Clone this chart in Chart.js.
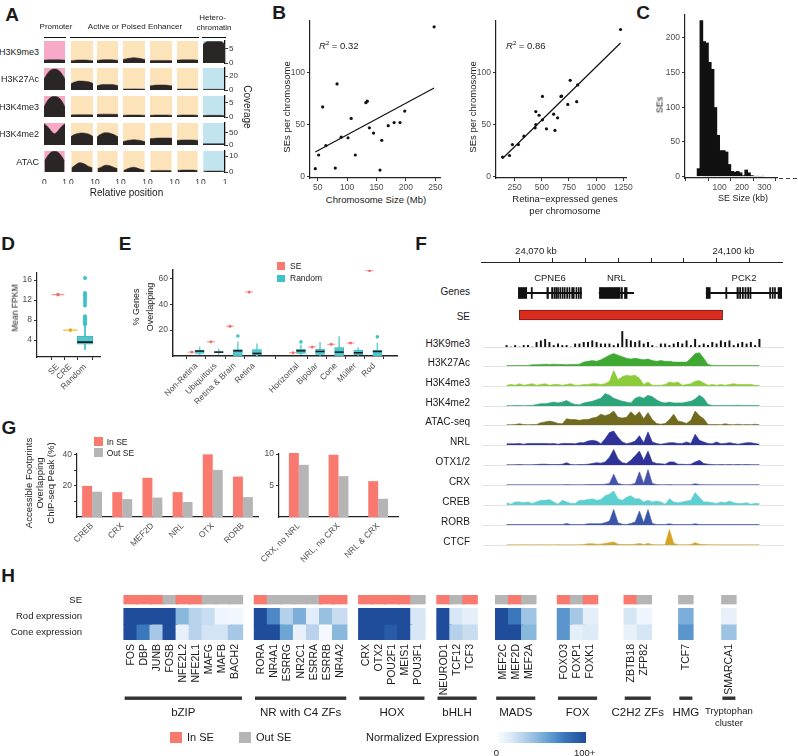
<!DOCTYPE html>
<html>
<head>
<meta charset="utf-8">
<script src="https://cdn.jsdelivr.net/npm/chart.js@4.4.1/dist/chart.umd.min.js"></script>
<style>
  body { margin: 0; background: #fff; width: 798px; height: 756px; overflow: hidden; position: relative;
         font-family: "Liberation Sans", Arial, Helvetica, sans-serif; color: #1a1a1a; }
  canvas { position: absolute; }
  .t { position: absolute; white-space: nowrap; line-height: 1; }
  .b { position: absolute; }
</style>
</head>
<body>
<script>
/* ---------- data ---------- */

// A: average coverage profiles (rows = marks, cols = promoter, 5 enhancer clusters, heterochromatin)
var aRowNames = ['H3K9me3', 'H3K27Ac', 'H3K4me3', 'H3K4me2', 'ATAC'];
var aRowMax = [7.6, 31.5, 7.4, 91, 13.2];
var aRowTicks = [[0, 5], [0, 20], [0, 5], [0, 50], [0, 10]];
var aProfiles = [
  [[1.0, 1.05, 1.1, 1.1, 1.1, 1.1, 1.1, 1.05, 1.0],
   [0.8, 0.9, 1.0, 1.05, 1.05, 1.05, 1.0, 0.9, 0.8],
   [0.9, 1.0, 1.1, 1.15, 1.15, 1.15, 1.1, 1.0, 0.9],
   [1.2, 1.4, 1.6, 1.75, 1.8, 1.75, 1.6, 1.4, 1.2],
   [0.8, 0.85, 0.9, 0.9, 0.9, 0.9, 0.9, 0.85, 0.8],
   [1.0, 1.05, 1.1, 1.1, 1.1, 1.1, 1.1, 1.05, 1.0],
   [6.4, 7.2, 7.4, 7.4, 7.4, 7.4, 7.4, 7.2, 6.4]],
  [[16, 22, 27, 29.5, 30, 29.5, 27, 22, 16],
   [9, 11, 12.3, 12.8, 12.8, 12.5, 12, 11, 9.5],
   [6, 7, 7.8, 8, 8, 8, 7.8, 7, 6],
   [1.2, 1.4, 1.5, 1.6, 1.6, 1.6, 1.5, 1.4, 1.2],
   [6, 6.5, 7, 7.2, 7.2, 7.2, 7, 6.5, 6],
   [1.2, 1.3, 1.4, 1.5, 1.5, 1.5, 1.4, 1.3, 1.2],
   [0.8, 0.9, 1, 1, 1, 1, 1, 0.9, 0.8]],
  [[3.6, 5.3, 6.5, 7.1, 7.2, 7.1, 6.5, 5.3, 3.6],
   [0.7, 0.75, 0.8, 0.8, 0.8, 0.8, 0.8, 0.75, 0.7],
   [0.9, 0.95, 1, 1, 1, 1, 1, 0.95, 0.9],
   [0.6, 0.65, 0.7, 0.7, 0.7, 0.7, 0.7, 0.65, 0.6],
   [0.6, 0.65, 0.7, 0.7, 0.7, 0.7, 0.7, 0.65, 0.6],
   [0.6, 0.65, 0.7, 0.7, 0.7, 0.7, 0.7, 0.65, 0.6],
   [0.5, 0.55, 0.6, 0.6, 0.6, 0.6, 0.6, 0.55, 0.5]],
  [[88, 80, 68, 55, 47, 55, 68, 80, 88],
   [35, 42, 47, 49, 50, 49, 47, 42, 35],
   [33, 42, 48, 51, 51, 49, 45, 40, 34],
   [14, 17, 19.5, 21, 21.5, 21, 19.5, 17, 14],
   [26, 27, 28, 28.5, 29, 29, 29, 29, 28],
   [19, 20, 20.5, 21, 21, 21, 20.5, 20, 19],
   [5, 5.3, 5.5, 5.5, 5.5, 5.5, 5.5, 5.3, 5]],
  [[7, 9.5, 11.5, 12.8, 13.1, 12.8, 11.5, 9.5, 7],
   [2.5, 3.8, 5, 5.8, 5.7, 5, 4, 3.2, 2.6],
   [2, 2.7, 3.5, 4.2, 4.3, 3.9, 3.3, 2.6, 2.1],
   [1, 1.6, 2.3, 2.9, 3.0, 2.6, 2, 1.5, 1.1],
   [0.8, 0.9, 1, 1, 1, 1, 1, 0.9, 0.8],
   [1, 1.1, 1.2, 1.2, 1.2, 1.2, 1.2, 1.1, 1],
   [0.5, 0.55, 0.6, 0.6, 0.6, 0.6, 0.6, 0.55, 0.5]]
];

// B: SEs per chromosome
var chrSizeMb = [46, 51.7, 58.5, 64, 80, 83, 90, 101.6, 107, 114, 132, 134.4, 138, 145, 156, 159, 170, 180, 190, 198, 248];
var sePerChrA = [7.9, 21, 67, 30, 8.5, 89, 38, 37.5, 56, 21, 71, 72.5, 47, 42, 6.6, 35, 49, 52, 52, 63, 143.6];
var retinaGenes = [139, 203, 230, 285, 336, 439, 445, 445, 475, 506, 506, 543, 609, 621, 645, 676, 682, 739, 761, 821, 830, 1224];
var sePerChrB = [19, 20.5, 31, 31, 39, 47, 50, 62.5, 59, 77, 54.6, 46, 60, 44.5, 56.5, 77, 77.3, 69.4, 92.4, 72, 88, 141];

// C: SE size histogram (bin centres, kb)
var seBinKb = [6.25, 18.75, 31.25, 43.75, 56.25, 68.75, 81.25, 93.75, 106.25, 118.75, 131.25, 143.75,
               156.25, 168.75, 181.25, 193.75, 206.25, 218.75, 231.25, 243.75, 256.25, 268.75, 281.25, 293.75];
var seBinCount = [12, 225, 195, 193, 165, 155, 100, 60, 38, 38, 36, 18, 8, 7, 8, 6, 2, 10, 6, 2, 1, 1, 0.5, 1];

// D: mean FPKM
var dCats = ['SE', 'CRE', 'Random'];
var dMeans = [13.1, 6.0];
var dRandStats = [2.1, 3.2, 3.6, 4.8, 7.0];   // low, q1, median, q3, high
var dRandOut = [7.2, 7.4, 7.6, 7.9, 8.2, 8.5, 8.8, 10.9, 11.4, 11.8, 12.3, 12.8, 13.1, 13.4, 16.4];

// E: % genes overlapping
var eCats = ['Non-Retina', 'Ubiquitous', 'Retina & Brain', 'Retina', 'Horizontal', 'Bipolar', 'Cone', 'Müller', 'Rod'];
var eSE = [3, 11, 23, 49.5, 2.5, 7, 9, 10, 66];
var eLow = [1, 1, 0, 0, 1, 0.5, 0, 0.5, 0];
var eQ1 = [2, 2.5, 0, 1, 2, 1.2, 0, 1, 0];
var eMed = [3.8, 3, 4, 2, 4, 3.5, 3, 2.5, 3.5];
var eQ3 = [4.5, 3.5, 5, 5, 5.2, 5.3, 6.5, 4.5, 4.5];
var eHigh = [7, 5.5, 11, 9.4, 8.5, 10.5, 15, 6.5, 10];
var eOut = [[], [], [15.5], [], [10.9], [], [], [], [14.8]];

// F: genome browser (kb)
var geneNames = ['CPNE6', 'NRL', 'PCK2'];
var geneStart = [24069.8, 24080.3, 24094.26];
var geneEnd = [24078.0, 24084.8, 24104.1];
var exons = [
  [24069.78, 24070.87], [24071.45, 24071.6], [24073.5, 24073.7], [24074.1, 24074.3], [24074.45, 24074.57],
  [24074.67, 24074.79], [24074.89, 24075.01], [24075.18, 24075.3], [24075.48, 24075.6], [24075.75, 24075.87],
  [24076.07, 24076.19], [24076.37, 24076.49], [24076.72, 24076.84], [24076.93, 24077.05], [24077.28, 24077.4],
  [24077.58, 24077.7], [24077.85, 24078.0],
  [24080.34, 24083.04], [24083.17, 24083.34], [24083.6, 24083.95],
  [24094.26, 24094.78], [24096.8, 24096.95], [24098.26, 24098.45], [24098.6, 24098.75], [24098.95, 24099.1],
  [24099.3, 24099.45], [24099.65, 24099.8], [24099.95, 24100.09], [24102.52, 24102.64], [24102.85, 24102.97],
  [24103.15, 24103.27], [24103.61, 24104.1]
];
var seRegion = [24069.91, 24096.39];
var rulerTicks = [24070, 24075, 24080, 24085, 24090, 24095, 24100];

var trackNames = ['H3K9me3', 'H3K27Ac', 'H3K4me3', 'H3K4me2', 'ATAC-seq', 'NRL', 'OTX1/2', 'CRX', 'CREB', 'RORB', 'CTCF'];
var trackK9 = [1,0,1,0,1,1,0,3,4,5, 3,1,2,1,1,0,2,2,3,3, 4,3,2,2,2,1,2,10,5,4, 3,4,2,3,1,0,2,2,1,2, 3,2,4,1,5,1,2,1,3,2, 4,3,4,1,2,3,2,3,1,5];
var trackK27 = [0.3,0.3,0.3,0.4,0.3,0.4,0.8,0.8,1.0,1.2, 1.0,1.2,1.0,1.0,0.8,1.0,1.0,1.2,2.5,3, 3.5,3,4,5.5,7,8,7,6,5,4.5,
                5,4.5,4,4.5,3.5,3,3.5,3,3,2.5, 2.5,2.5,2.5,5,8,8.5,5,1,0.4,0.3, 0.3,0.4,0.3,0.3,0.4,0.3,0.3,0.4,0.3,0.3];
var trackK4me3 = [0.5,1,0.5,1.5,0.5,1,1.5,0.5,1,1.5, 0.5,1,1,0.5,1,1.5,0.5,0.5,1,1, 1.5,1.5,1,1.5,3,10,4,6,7,6.5,
                  7,5,1,2.5,0.5,0.5,0.5,1,2.5,2, 2.5,0.5,1,1.5,3,3.5,2,0.5,1,0.5, 1,0.5,1,1.5,1,1,1,1,0.5,0.5];
var trackK4me2 = [0.3,0.2,0.3,0.3,0.2,0.3,0.3,1,1.5,1.5, 2,2.5,2,2.5,3.5,2,1,0.8,2,2.5, 3,4,5,8,7,5,4,3,2.5,2,
                  5,6,5,7,6,4,2.5,2,2.5,2, 2,2,2.5,3,4.5,7,5,1,0.3,0.3, 0.3,0.4,0.3,0.3,0.5,0.3,0.3,0.3,0.4,0.3];
var trackAtac = [0.2,0.2,0.3,0.8,0.3,0.2,0.3,0.3,1.5,2, 2.5,2,1,0.8,4,3.5,3.5,3,3.5,3.5, 4.5,5,7,6,7,9,5,4.5,5,8.5,
                 6,8.5,4,8,3.5,1,0.5,1,3.5,7, 2.5,2,1,3,9,6,4,0.3,0.3,0.3, 0.2,0.8,0.3,0.2,0.5,0.2,0.3,0.2,0.5,0.2];
var trackNrl = [0.8,0.8,0.8,1,0.5,1,1,1,1,1, 0.8,1,0.5,1,1,1,0.8,1.5,1.5,2.5, 3,2.5,0.8,4,8,9,5,2,0.8,1.5,
                2.5,6,1.5,8.5,2,1,0.5,1,1.5,1.5, 1,1,2,1,7,3,2,1,0.8,2, 0.8,1,1.5,1,0.5,1,1.5,1.5,1,0.5];
var trackOtx = [0.2,0.1,0.2,0.3,0.2,0.1,0.2,0.3,0.5,0.5, 0.3,0.3,0.3,0.5,1.5,0.3,0.2,0.3,0.3,0.5, 1,1.5,1.2,2,5,10,4,1.5,1,3,
                6,9,3,9,2,1,0.8,0.5,2,2, 0.5,0.5,0.3,0.5,2,3,1,0.5,0.3,0.2, 0.3,0.2,0.3,0.2,0.3,0.2,0.3,0.2,0.2,0.2];
var trackCrx = [0.2,0.2,0.2,0.2,0.2,0.2,0.2,0.2,0.2,0.2, 0.2,0.2,0.2,0.2,0.3,0.2,0.2,0.2,0.2,0.3, 0.3,0.3,0.3,0.5,1,7,1,0.3,0.2,0.3,
                1,8.5,1,10,1,0.3,0.2,0.2,0.3,0.2, 0.2,0.2,0.2,0.2,0.8,0.3,0.2,0.2,0.2,0.2, 0.2,0.2,0.2,0.2,0.2,0.2,0.2,0.2,0.2,0.2];
var trackCreb = [1.5,0.5,2,2,1.5,2,1,2,3,3, 3.5,2,0.5,3,2,1,1,3,3,3.5, 4,3,3.5,6,7,9,4,3,5,6,
                 4,4,2,3,2,2.5,2,0.5,4,2, 1.5,2,2.5,3,8,5,2,2,1.5,1, 2,1.5,2.5,1.5,1,1,1.5,0.5,1,1];
var trackRorb = [0.3,0.3,0.3,0.3,0.3,0.3,0.3,0.3,0.3,0.3, 0.3,0.3,0.3,0.3,1,0.3,0.3,0.3,0.3,0.8, 0.8,0.8,0.8,1.5,2.5,10,1.5,0.5,0.3,1,
                 2,9,1.5,10,1,0.3,0.3,0.3,0.8,0.3, 0.3,0.3,0.3,0.3,0.8,0.3,0.3,0.3,0.3,0.3, 0.3,0.3,0.3,0.3,0.3,0.3,0.3,0.3,0.3,0.3];
var trackCtcf = [0.1,0.1,0.1,0.1,0.2,0.1,0.1,0.1,0.2,0.1, 0.1,0.1,0.2,0.1,0.1,0.1,0.1,0.2,0.3,0.8, 0.8,0.5,0.5,1,1.5,2,0.5,0.3,0.3,0.3,
                 0.5,1,0.3,1,0.3,0.2,0.2,0.2,10,1, 0.2,0.2,0.2,0.3,1.5,0.5,0.3,0.2,0.2,0.2, 0.1,0.1,0.1,0.1,0.1,0.1,0.1,0.1,0.1,0.1];
var trackValues = [trackK9, trackK27, trackK4me3, trackK4me2, trackAtac, trackNrl, trackOtx, trackCrx, trackCreb, trackRorb, trackCtcf];

// G: accessible footprints overlapping ChIP-seq peaks (%)
var gCats1 = ['CREB', 'CRX', 'MEF2D', 'NRL', 'OTX', 'RORB'];
var gIn1 = [20, 16, 25.2, 16, 40.3, 26];
var gOut1 = [16.3, 11.5, 12.5, 9.7, 30.3, 12.8];
var gCats2 = ['CRX, no NRL', 'NRL, no CRX', 'NRL & CRX'];
var gIn2 = [10.2, 9.9, 5.7];
var gOut2 = [8.3, 6.5, 2.9];

// H: TF expression heatmap
var hGroups = ['bZIP', 'NR with C4 ZFs', 'HOX', 'bHLH', 'MADS', 'FOX', 'C2H2 ZFs', 'HMG', 'Tryptophan cluster'];
var hGenes = [['FOS', 'DBP', 'JUNB', 'FOSB', 'NFE2L2', 'NFE2L1', 'MAFG', 'MAFB', 'BACH2'],
              ['RORA', 'NR4A1', 'ESRRG', 'NR2C1', 'ESRRA', 'ESRRB', 'NR4A2'],
              ['CRX', 'OTX2', 'POU2F1', 'MEIS1', 'POU3F1'],
              ['NEUROD1', 'TCF12', 'TCF3'],
              ['MEF2C', 'MEF2D', 'MEF2A'],
              ['FOXO3', 'FOXP1', 'FOXK1'],
              ['ZBTB18', 'ZFP82'],
              ['TCF7'],
              ['SMARCA1']];
var hInSE = [[1, 1, 1, 0, 1, 1, 0, 0, 0], [1, 0, 0, 0, 0, 1, 1], [1, 1, 1, 1, 0], [1, 0, 1], [0, 1, 0], [1, 0, 1], [1, 0], [0], [0]];
var hRod = [[100, 100, 100, 100, 45, 28, 22, 5, 3], [100, 68, 30, 50, 12, 40, 22], [100, 100, 100, 100, 16], [100, 16, 10],
            [100, 75, 37], [62, 35, 10], [17, 5], [50], [8]];
var hCone = [[100, 75, 35, 100, 8, 28, 18, 18, 35], [100, 100, 55, 8, 28, 2, 45], [100, 100, 92, 100, 16], [100, 30, 22],
             [100, 100, 45], [62, 10, 14], [8, 17], [62], [38]];

/* ---------- helpers ---------- */
var FONT = '"Liberation Sans", Arial, Helvetica, sans-serif';
Chart.defaults.font.family = FONT;
Chart.defaults.color = '#4d4d4d';
var SALMON = '#f9796f', GREY = '#b5b5b5', TEAL = '#3fc1c8';

Chart.register({
  id: 'bg',
  beforeDraw: function (ch, args, o) {
    if (!o || !o.color) return;
    var a = ch.chartArea;
    ch.ctx.save();
    ch.ctx.fillStyle = o.color;
    ch.ctx.fillRect(a.left, a.top, a.right - a.left, a.bottom - a.top);
    ch.ctx.restore();
  }
});

function txt(s, x, y, size, o) {
  o = o || {};
  var d = document.createElement('div');
  d.className = 't';
  d.innerHTML = s;
  d.style.left = x + 'px';
  d.style.top = y + 'px';
  d.style.fontSize = size + 'px';
  if (o.bold) d.style.fontWeight = 'bold';
  if (o.lh) { d.style.lineHeight = o.lh; d.style.textAlign = 'center'; }
  var tx = o.align === 'l' ? '0' : o.align === 'r' ? '-100%' : '-50%';
  d.style.transform = 'translate(' + tx + ',-50%)' + (o.rot ? ' rotate(' + o.rot + 'deg)' : '');
  document.body.appendChild(d);
}

function box(x, y, w, h, color) {
  var d = document.createElement('div');
  d.className = 'b';
  d.style.left = x + 'px'; d.style.top = y + 'px';
  d.style.width = w + 'px'; d.style.height = h + 'px';
  d.style.background = color;
  document.body.appendChild(d);
  return d;
}

// area = chart area in page px, m = canvas margins, ax = fixed axis sizes
function mk(area, m, ax, cfg) {
  var x0 = Math.round(area[0]), y0 = Math.round(area[1]);
  var w = Math.round(area[2]) - x0, h = Math.round(area[3]) - y0;
  var c = document.createElement('canvas');
  c.width = w + m.l + m.r;
  c.height = h + m.t + m.b;
  c.style.left = (x0 - m.l) + 'px';
  c.style.top = (y0 - m.t) + 'px';
  document.body.appendChild(c);
  var o = cfg.options = cfg.options || {};
  o.responsive = false;
  o.animation = false;
  o.events = [];
  o.layout = {padding: {left: m.l - (ax.l || 0), right: m.r - (ax.r || 0), top: m.t - (ax.t || 0), bottom: m.b - (ax.b || 0)}};
  o.plugins = Object.assign({legend: {display: false}, tooltip: {enabled: false}}, o.plugins || {});
  var sc = o.scales || {};
  Object.keys(sc).forEach(function (k) {
    var s = sc[k];
    if (s.display === false) return;
    var pos = s.position || (k.charAt(0) === 'x' ? 'bottom' : 'left');
    var size = {left: ax.l, right: ax.r, top: ax.t, bottom: ax.b}[pos] || 0;
    s.afterFit = function (scale) {
      if (pos === 'left' || pos === 'right') scale.width = size; else scale.height = size;
    };
  });
  return new Chart(c, cfg);
}

function axisOpts(o) {
  var base = {
    grid: {display: true, drawOnChartArea: false, drawTicks: true, tickLength: 3, color: '#333', lineWidth: 1},
    border: {display: true, color: '#222', width: 1.2},
    ticks: {font: {size: 8.5}, color: '#4d4d4d', padding: 2, autoSkip: false, maxRotation: 0, minRotation: 0}
  };
  Object.keys(o || {}).forEach(function (k) {
    if (base[k] && typeof o[k] === 'object' && !Array.isArray(o[k])) base[k] = Object.assign({}, base[k], o[k]);
    else base[k] = o[k];
  });
  return base;
}

function tickAt(vals) {
  return function (s) { s.ticks = vals.map(function (v) { return {value: v}; }); };
}

function fitLine(xs, ys) {
  var n = xs.length, mx = 0, my = 0, sxy = 0, sxx = 0;
  for (var i = 0; i < n; i++) { mx += xs[i] / n; my += ys[i] / n; }
  for (i = 0; i < n; i++) { sxy += (xs[i] - mx) * (ys[i] - my); sxx += (xs[i] - mx) * (xs[i] - mx); }
  var b = sxy / sxx, a = my - b * mx;
  var lo = Math.min.apply(null, xs), hi = Math.max.apply(null, xs);
  return [{x: lo, y: a + b * lo}, {x: hi, y: a + b * hi}];
}

function pts(xs, ys) { return xs.map(function (x, i) { return {x: x, y: ys[i]}; }); }
function plain(v) { return String(v); }

/* ---------- panel letters ---------- */
[['A', 12, 13.5], ['B', 279, 12], ['C', 643, 12], ['D', 8, 242.5], ['E', 125, 242.5],
 ['F', 421, 242.5], ['G', 9, 427], ['H', 8, 574.5]].forEach(function (p) {
  txt(p[0], p[1], p[2], 19, {bold: true});
});

/* ---------- A ---------- */
var aColX = [[44, 65], [71, 93], [97, 118], [123, 145], [150, 172], [177, 198], [203, 225]];
var aRowY = [[41, 63], [68, 90], [96, 117], [123, 145], [151, 172]];
var aBg = ['#f7a9c8', '#fde3b9', '#fde3b9', '#fde3b9', '#fde3b9', '#fde3b9', '#c2e4ef'];
aRowNames.forEach(function (name, r) {
  txt(name, 39, (aRowY[r][0] + aRowY[r][1]) / 2, 9, {align: 'r'});
  aProfiles[r].forEach(function (prof, c) {
    var last = c === 6, bottom = r === 4;
    mk([aColX[c][0], aRowY[r][0], aColX[c][1], aRowY[r][1]],
      {l: 5, t: 6, r: last ? 16 : 5, b: bottom ? 14 : 6},
      {r: last ? 14 : 0, b: bottom ? 12 : 0},
      {
        type: 'line',
        data: {datasets: [{
          data: prof.map(function (v, i) { return {x: i / (prof.length - 1), y: v}; }),
          fill: 'origin', backgroundColor: '#2b2626', borderColor: '#2b2626', borderWidth: 0.5,
          pointRadius: 0, cubicInterpolationMode: 'monotone'
        }]},
        options: {
          plugins: {bg: {color: aBg[c]}},
          scales: {
            x: axisOpts({type: 'linear', min: 0, max: 1, display: bottom, grid: {display: false}, border: {display: false},
                         afterBuildTicks: tickAt([0, 1]), ticks: {font: {size: 8.5}, color: '#333', padding: 3}}),
            y: axisOpts({min: 0, max: aRowMax[r], display: last, position: 'right', afterBuildTicks: tickAt(aRowTicks[r]),
                         ticks: {font: {size: 8}, color: '#333', padding: 1}, border: {color: '#111', width: 1.3}})
          }
        }
      });
  });
});
txt('Promoter', 56, 27, 8);
txt('Active or Poised Enhancer', 135, 27, 8);
txt('Hetero-', 212.5, 17.5, 8);
txt('chromatin', 214, 28, 8);
box(44, 36.7, 22, 1.4, '#111');
box(70, 36.7, 129, 1.4, '#111');
box(202, 36.7, 24, 1.4, '#111');
txt('Coverage', 247, 107, 10, {rot: 90});
txt('Relative position', 126.5, 193, 10);

/* ---------- B ---------- */
function scatterB(area, xs, ys, xmin, xmax, xticks) {
  mk(area, {l: 26, t: 6, r: 8, b: 16}, {l: 24, b: 14}, {
    type: 'scatter',
    data: {datasets: [
      {type: 'line', data: fitLine(xs, ys), borderColor: '#111', borderWidth: 1.2, pointRadius: 0, fill: false},
      {data: pts(xs, ys), backgroundColor: '#111', borderWidth: 0, pointRadius: 1.6}
    ]},
    options: {scales: {
      x: axisOpts({type: 'linear', min: xmin, max: xmax, afterBuildTicks: tickAt(xticks), ticks: {callback: plain}}),
      y: axisOpts({min: -1, max: 150, afterBuildTicks: tickAt([0, 50, 100]), ticks: {callback: plain}})
    }}
  });
}
scatterB([310, 19, 440, 178], chrSizeMb, sePerChrA, 37, 258, [50, 100, 150, 200, 250]);
scatterB([496, 19, 627, 178], retinaGenes, sePerChrB, 79, 1276, [250, 500, 750, 1000, 1250]);
txt('SEs per chromosome', 287, 107, 9.5, {rot: -90});
txt('Chromosome Size (Mb)', 376, 200, 9.5);
txt('<i>R</i><sup style="font-size:6px;vertical-align:4px">2</sup> = 0.32', 319, 45, 9.5, {align: 'l'});
txt('SEs per chromosome', 473, 107, 9.5, {rot: -90});
txt('Retina\u2212expressed genes', 565, 198.5, 9.5);
txt('per chromosome', 565, 211, 9.5);
txt('<i>R</i><sup style="font-size:6px;vertical-align:4px">2</sup> = 0.86', 506, 45, 9.5, {align: 'l'});

/* ---------- C ---------- */
mk([685, 13, 777, 178], {l: 26, t: 6, r: 21, b: 16}, {l: 24, b: 14}, {
  type: 'bar',
  data: {datasets: [{data: pts(seBinKb, seBinCount), backgroundColor: '#111', barPercentage: 1.3, categoryPercentage: 1}]},
  options: {scales: {
    x: axisOpts({type: 'linear', min: -3, max: 305, afterBuildTicks: tickAt([0, 100, 200, 300]),
                 ticks: {callback: function (v) { return v === 0 ? '' : String(v); }}}),
    y: axisOpts({min: -2, max: 234, afterBuildTicks: tickAt([0, 50, 100, 150, 200])})
  }},
  plugins: [{id: 'dash', afterDraw: function (ch) {
    var ctx = ch.ctx, a = ch.chartArea;
    ctx.save(); ctx.strokeStyle = '#444'; ctx.lineWidth = 1; ctx.setLineDash([4, 3]);
    ctx.beginPath(); ctx.moveTo(a.right + 2, a.bottom + 0.5); ctx.lineTo(ch.width, a.bottom + 0.5); ctx.stroke();
    ctx.restore();
  }}]
});
txt('SEs', 660, 105, 9, {rot: -90});
txt('SE Size (kb)', 743, 197.7, 9);

/* ---------- D ---------- */
var dX = [1, 2, 3.17];
mk([37, 269, 102, 357], {l: 26, t: 6, r: 8, b: 45}, {l: 22, b: 42}, {
  type: 'bar',
  data: {datasets: [
    {type: 'scatter', data: [{x: dX[2], y: dRandStats[2]}], pointStyle: 'line', pointRadius: 7.8, borderWidth: 1.6, borderColor: '#1a1a1a'},
    {type: 'scatter', data: pts(dX.slice(0, 2), dMeans), pointRadius: 1.8, backgroundColor: ['#f26d63', '#e8a81e'], borderWidth: 0},
    {type: 'scatter', data: pts(dX.slice(0, 2), dMeans), pointStyle: 'line', pointRadius: [6.3, 7.3], borderWidth: 1.4,
     borderColor: ['#f7958d', '#f2bb3a']},
    {type: 'scatter', data: dRandOut.map(function (v) { return {x: dX[2], y: v}; }), pointRadius: 2, backgroundColor: TEAL, borderWidth: 0},
    {data: [{x: dX[2], y: [dRandStats[1], dRandStats[3]]}], barThickness: 15.7, backgroundColor: '#56c5cc',
     borderColor: '#2fb4bc', borderWidth: 0.8, borderSkipped: false, grouped: false},
    {data: [{x: dX[2], y: [dRandStats[0], dRandStats[4]]}], barThickness: 1, backgroundColor: '#3cbcc4', grouped: false}
  ]},
  options: {scales: {
    x: axisOpts({type: 'linear', min: 0.17, max: 3.57, afterBuildTicks: tickAt(dX),
                 ticks: {maxRotation: 45, minRotation: 45, callback: function (v) { return dCats[dX.indexOf(v)]; }}}),
    y: axisOpts({min: 0.63, max: 17.54, afterBuildTicks: tickAt([4, 8, 12, 16])})
  }}
});
txt('Mean FPKM', 15, 308, 8.5, {rot: -90});

/* ---------- E ---------- */
var eX = [0, 1, 2, 3, 5.3, 6.3, 7.3, 8.3, 9.3];
var eOutPts = [];
eOut.forEach(function (arr, i) { arr.forEach(function (v) { eOutPts.push({x: eX[i] + 0.17, y: v}); }); });
mk([173, 269, 397, 356], {l: 26, t: 6, r: 8, b: 50}, {l: 22, b: 48}, {
  type: 'bar',
  data: {datasets: [
    {type: 'scatter', data: eX.map(function (x, i) { return {x: x + 0.17, y: eMed[i]}; }), pointStyle: 'line', pointRadius: 4.5,
     borderWidth: 1.5, borderColor: '#1a1a1a'},
    {type: 'scatter', data: eX.map(function (x, i) { return {x: x - 0.24, y: eSE[i]}; }), pointRadius: 1.5, backgroundColor: '#f26d63', borderWidth: 0},
    {type: 'scatter', data: eX.map(function (x, i) { return {x: x - 0.24, y: eSE[i]}; }), pointStyle: 'line', pointRadius: 4,
     borderWidth: 1.2, borderColor: '#f7a39c'},
    {type: 'scatter', data: eOutPts, pointRadius: 1.8, backgroundColor: TEAL, borderWidth: 0},
    {data: eX.map(function (x, i) { return {x: x + 0.17, y: [eQ1[i], eQ3[i]]}; }), barThickness: 9, backgroundColor: '#52c6cd',
     borderColor: '#2bb3bb', borderWidth: 0.6, borderSkipped: false, grouped: false},
    {data: eX.map(function (x, i) { return {x: x + 0.17, y: [eLow[i], eHigh[i]]}; }), barThickness: 0.9, backgroundColor: '#6fd0d6', grouped: false}
  ]},
  options: {scales: {
    x: axisOpts({type: 'linear', min: -0.572, max: 9.846, afterBuildTicks: tickAt(eX), border: {width: 1.4},
                 ticks: {maxRotation: 45, minRotation: 45, callback: function (v) { return eCats[eX.indexOf(v)]; }}}),
    y: axisOpts({min: 0, max: 66.4, afterBuildTicks: tickAt([20, 40, 60]), border: {width: 1.4}})
  }}
});
txt('% Genes<br>Overlapping', 143, 306.7, 9, {rot: -90, lh: '14px'});
box(277, 262, 8.3, 7.6, SALMON);
box(277, 274.5, 8.3, 7.6, TEAL);
txt('SE', 290, 265.8, 8.5, {align: 'l'});
txt('Random', 290, 278.3, 8.5, {align: 'l'});

/* ---------- F ---------- */
var fMin = 24064.91, fMax = 24104.13;
mk([481, 262, 782, 264], {l: 4, t: 18, r: 20, b: 2}, {t: 17}, {
  type: 'bar',
  data: {datasets: []},
  options: {scales: {
    x: axisOpts({type: 'linear', position: 'top', min: fMin, max: fMax, afterBuildTicks: tickAt(rulerTicks),
                 grid: {tickLength: 4, color: '#222'}, border: {color: '#222', width: 1},
                 ticks: {font: {size: 9.5}, color: '#1a1a1a', padding: 1,
                         callback: function (v) { return (v === 24070 || v === 24100) ? v.toLocaleString('en-US') + ' kb' : ''; }}}),
    y: {display: false}
  }}
});
mk([481, 282, 782, 326], {l: 4, t: 14, r: 4, b: 4}, {}, {
  type: 'bar',
  data: {labels: ['Genes', 'SE'], datasets: [
    {data: [{x: seRegion, y: 'SE'}], barThickness: 10, backgroundColor: '#dc2b1f', borderColor: '#4a1410', borderWidth: 0.8,
     borderSkipped: false, grouped: false},
    {data: exons.map(function (e) { return {x: e, y: 'Genes'}; }), barThickness: 11, backgroundColor: '#111', minBarLength: 1, grouped: false},
    {data: geneStart.map(function (s, i) { return {x: [s, geneEnd[i]], y: 'Genes'}; }), barThickness: 1.3, backgroundColor: '#111', grouped: false}
  ]},
  options: {indexAxis: 'y', scales: {
    x: {type: 'linear', min: fMin, max: fMax, display: false},
    y: {type: 'category', display: false}
  }},
  plugins: [{id: 'geneNames', afterDatasetsDraw: function (ch) {
    var ctx = ch.ctx, xs = ch.scales.x;
    ctx.save(); ctx.font = '9.5px ' + FONT; ctx.fillStyle = '#1a1a1a'; ctx.textAlign = 'center'; ctx.textBaseline = 'middle';
    geneNames.forEach(function (g, i) { ctx.fillText(g, xs.getPixelForValue((geneStart[i] + geneEnd[i]) / 2), ch.chartArea.top - 4); });
    ctx.restore();
  }}]
});
txt('Genes', 470, 292.3, 10, {align: 'r'});
txt('SE', 470, 316.7, 10, {align: 'r'});

var trackColors = ['#111111', '#3ea832', '#8ccb3a', '#2ca57a', '#6f6a1e', '#2f3399', '#2f3399', '#4653ad', '#5ccfd0', '#3b55aa', '#d7a21f'];
var trackBase = [346.7, 366, 386, 405.7, 425, 445, 465, 485.3, 505, 525, 545];
trackNames.forEach(function (name, k) {
  txt(name, 470, trackBase[k] - 3, 10, {align: 'r'});
  var vals = trackValues[k];
  var ds = k === 0
    ? {type: 'bar', data: vals.map(function (v, i) { return {x: i, y: v}; }), backgroundColor: trackColors[k], barThickness: 1.3}
    : {type: 'line', data: vals.map(function (v, i) { return {x: i, y: v}; }), fill: 'origin', backgroundColor: trackColors[k],
       borderColor: trackColors[k], borderWidth: 0.6, pointRadius: 0, tension: 0};
  mk([483, trackBase[k] - 16, 783, trackBase[k]], {l: 2, t: 2, r: 2, b: 2}, {b: 1}, {
    type: 'bar',
    data: {datasets: [ds]},
    options: {scales: {
      x: {type: 'linear', min: -0.5, max: 59.5, grid: {display: false}, ticks: {display: false},
          border: {display: true, color: 'rgba(150,150,150,0.35)', width: 0.8}},
      y: {min: 0, max: 10.3, display: false}
    }}
  });
});

/* ---------- G ---------- */
function barsG(area, m, ax, cats, vin, vout, ymax, yticks, labelEvery, catPct) {
  mk(area, m, ax, {
    type: 'bar',
    data: {labels: cats, datasets: [
      {data: vin, backgroundColor: SALMON, barPercentage: 1, categoryPercentage: catPct},
      {data: vout, backgroundColor: GREY, barPercentage: 1, categoryPercentage: catPct}
    ]},
    options: {scales: {
      x: axisOpts({grid: {display: false}, ticks: {maxRotation: 45, minRotation: 45, padding: 1}}),
      y: axisOpts({min: 0, max: ymax, afterBuildTicks: tickAt(yticks),
                   ticks: {callback: function (v) { return v % labelEvery === 0 ? String(v) : ''; }}})
    }}
  });
}
barsG([77, 452, 258, 517], {l: 22, t: 6, r: 6, b: 42}, {l: 20, b: 40}, gCats1, gIn1, gOut1, 41.1, [10, 20, 30, 40], 20, 0.66);
barsG([279, 452, 398, 517], {l: 22, t: 6, r: 6, b: 56}, {l: 18, b: 54}, gCats2, gIn2, gOut2, 10.16, [5, 10], 5, 0.5);
txt('Accessible Footprints<br>Overlapping<br>ChIP-seq Peak (%)', 39.5, 483.3, 9.5, {rot: -90, lh: '11.2px'});
box(94, 437, 8.7, 9, SALMON);
box(94, 448.3, 8.7, 9, GREY);
txt('In SE', 106.7, 441.5, 8.5, {align: 'l'});
txt('Out SE', 106.7, 452.8, 8.5, {align: 'l'});

/* ---------- H ---------- */
var hGroupStart = [0, 10, 18, 24, 28.5, 33.24, 38.36, 42.55, 45.85];
var blueStops = [[0, [247, 251, 255]], [15, [219, 233, 246]], [30, [180, 208, 234]], [45, [137, 184, 221]],
                 [60, [95, 155, 207]], [75, [59, 119, 189]], [100, [31, 76, 155]]];
function blue(v) {
  v = Math.max(0, Math.min(100, v));
  for (var i = 1; i < blueStops.length; i++) {
    if (v <= blueStops[i][0]) {
      var a = blueStops[i - 1], b = blueStops[i], t = (v - a[0]) / (b[0] - a[0]);
      return 'rgb(' + [0, 1, 2].map(function (k) { return Math.round(a[1][k] + (b[1][k] - a[1][k]) * t); }).join(',') + ')';
    }
  }
}
var hSE = [], hRodPts = [], hConePts = [], hSECol = [], hRodCol = [], hConeCol = [];
hGenes.forEach(function (genes, g) {
  genes.forEach(function (gn, j) {
    var x = hGroupStart[g] + j + 0.5;
    hSE.push({x: x, y: [2.27, 2.84]}); hSECol.push(hInSE[g][j] ? SALMON : GREY);
    hRodPts.push({x: x, y: [1, 2]}); hRodCol.push(blue(hRod[g][j]));
    hConePts.push({x: x, y: [0, 1]}); hConeCol.push(blue(hCone[g][j]));
  });
});
mk([94, 595, 768, 640], {l: 4, t: 4, r: 12, b: 96}, {}, {
  type: 'bar',
  data: {datasets: [
    {data: hSE, backgroundColor: hSECol, barThickness: 14.8, grouped: false},
    {data: hRodPts, backgroundColor: hRodCol, barThickness: 14.8, grouped: false},
    {data: hConePts, backgroundColor: hConeCol, barThickness: 14.8, grouped: false}
  ]},
  options: {scales: {
    x: {type: 'linear', min: 0, max: 47, display: false},
    y: {min: 0, max: 2.84, display: false}
  }},
  plugins: [{id: 'hLabels', afterDraw: function (ch) {
    var ctx = ch.ctx, xs = ch.scales.x, yb = ch.chartArea.bottom;
    ctx.save();
    hGroups.forEach(function (gname, g) {
      var genes = hGenes[g], s = hGroupStart[g];
      ctx.fillStyle = '#1a1a1a';
      ctx.font = '10.5px ' + FONT; ctx.textAlign = 'right'; ctx.textBaseline = 'middle';
      genes.forEach(function (gn, j) {
        ctx.save();
        ctx.translate(xs.getPixelForValue(s + j + 0.5), yb + 4);
        ctx.rotate(-Math.PI / 2);
        ctx.fillText(gn, 0, 0);
        ctx.restore();
      });
      var x0 = xs.getPixelForValue(s), x1 = xs.getPixelForValue(s + genes.length);
      ctx.fillStyle = '#333';
      ctx.fillRect(x0, yb + 56.5, x1 - x0, 3.4);
      ctx.fillStyle = '#1a1a1a'; ctx.textAlign = 'center';
      if (gname === 'Tryptophan cluster') {
        ctx.font = '9.5px ' + FONT;
        ctx.fillText('Tryptophan', (x0 + x1) / 2, yb + 71.5);
        ctx.fillText('cluster', (x0 + x1) / 2, yb + 83.3);
      } else {
        ctx.font = '11.5px ' + FONT;
        ctx.fillText(gname, (x0 + x1) / 2, yb + 72.7);
      }
    });
    ctx.restore();
  }}]
});
txt('SE', 82, 599.5, 9.5, {align: 'r'});
txt('Rod expression', 82, 616, 9.5, {align: 'r'});
txt('Cone expression', 82, 632, 9.5, {align: 'r'});
box(170, 731.7, 11.7, 11, SALMON);
txt('In SE', 187, 737.3, 11, {align: 'l'});
box(239.3, 731.7, 11.7, 11, GREY);
txt('Out SE', 256, 737.3, 11, {align: 'l'});
txt('Normalized Expression', 366, 737.3, 11, {align: 'l'});
var grad = box(498, 731.7, 88.3, 11.6, '#fff');
grad.style.background = 'linear-gradient(to right,' + blueStops.map(function (s) {
  return 'rgb(' + s[1].join(',') + ') ' + s[0] + '%';
}).join(',') + ')';
txt('0', 496.3, 752.7, 9.5);
txt('100+', 584.7, 752.7, 9.5);
</script>
</body>
</html>
